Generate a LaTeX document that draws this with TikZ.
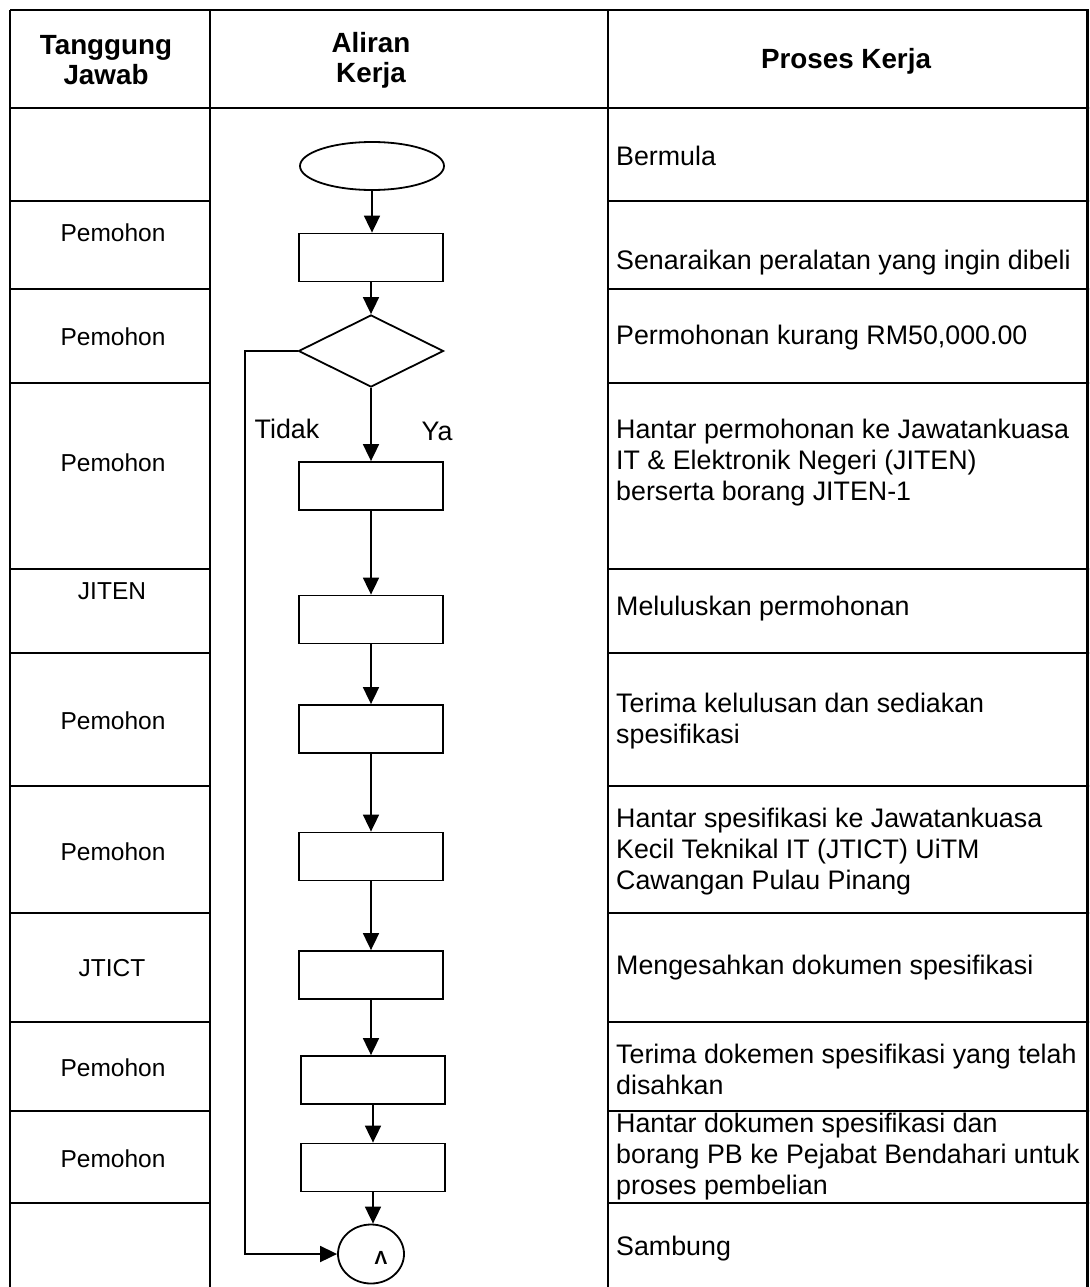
\documentclass[tikz,border=0pt]{standalone}
\usepackage{fontspec}
\setmainfont{Liberation Sans}
\usetikzlibrary{shapes.geometric,arrows.meta}
\begin{document}
\begin{tikzpicture}[x=1pt,y=-1pt,
  grid/.style={line width=2.6pt},
  shp/.style={draw,line width=1.8pt,inner sep=0pt,fill=white},
  box/.style={shp,rectangle,minimum width=144pt,minimum height=48pt},
  flow/.style={line width=1.8pt,-{Triangle[length=17pt,width=16pt]}},
  txt/.style={font=\fontsize{26.8}{31}\selectfont,inner sep=0pt},
  ltxt/.style={font=\fontsize{24.5}{30}\selectfont,inner sep=0pt},
  ptxt/.style={txt,anchor=west,align=left},
  hd/.style={font=\fontsize{27.8}{30}\selectfont\bfseries,inner sep=0pt,align=center}
]
\useasboundingbox (0,0) rectangle (1089,1287);
\clip (0,0) rectangle (1089,1287);
% table
\draw[grid] (10,10) -- (1087.7,10) -- (1087.7,1300);
\draw[grid] (10,10) -- (10,1300);
\draw[grid] (210,10) -- (210,1300);
\draw[grid] (608,10) -- (608,1300);
\draw[grid] (10,108) -- (1090,108);
\foreach \yy in {201,289,383,569,653,786,913,1022,1111,1203}{
  \draw[grid] (10,\yy) -- (210,\yy);
  \draw[grid] (608,\yy) -- (1090,\yy);
}
% headers
\node[hd] (h1) at (106,60) {Tanggung\\Jawab};
\node[hd] (h2) at (371,60) {Aliran\\Kerja};
\node[hd] (h3) at (846,61) {Proses Kerja};
% left column
\node[ltxt] (t1) at (113,233) {Pemohon};
\node[ltxt] (t2) at (113,337) {Pemohon};
\node[ltxt] (t3) at (113,463) {Pemohon};
\node[ltxt] (t4) at (112,591) {JITEN};
\node[ltxt] (t5) at (113,721) {Pemohon};
\node[ltxt] (t6) at (113,852) {Pemohon};
\node[ltxt] (t7) at (112,968) {JTICT};
\node[ltxt] (t8) at (113,1068) {Pemohon};
\node[ltxt] (t9) at (113,1159) {Pemohon};
% right column
\node[ptxt] (p0) at (616,156) {Bermula};
\node[ptxt] (p1) at (616,263) {Senaraikan peralatan yang ingin dibeli};
\node[ptxt] (p2) at (616,338) {Permohonan kurang RM50,000.00};
\node[ptxt] (p3) at (616,463) {Hantar permohonan ke Jawatankuasa\\IT \& Elektronik Negeri (JITEN)\\berserta borang JITEN-1};
\node[ptxt] (p4) at (616,609) {Meluluskan permohonan};
\node[ptxt] (p5) at (616,721) {Terima kelulusan dan sediakan\\spesifikasi};
\node[ptxt] (p6) at (616,852) {Hantar spesifikasi ke Jawatankuasa\\Kecil Teknikal IT (JTICT) UiTM\\Cawangan Pulau Pinang};
\node[ptxt] (p7) at (616,968) {Mengesahkan dokumen spesifikasi};
\node[ptxt] (p8) at (616,1069) {Terima dokemen spesifikasi yang telah\\disahkan};
\node[ptxt] (p9) at (616,1157) {Hantar dokumen spesifikasi dan\\borang PB ke Pejabat Bendahari untuk\\proses pembelian};
\node[ptxt] (p10) at (616,1249) {Sambung};
% flow shapes
\node[shp,ellipse,minimum width=144pt,minimum height=48pt] (s) at (372,166) {};
\node[box] (b1) at (371,257.5) {};
\node[shp,diamond,minimum width=145pt,minimum height=72pt] (d) at (371,351) {};
\node[box] (b2) at (371,486) {};
\node[box] (b3) at (371,619.5) {};
\node[box] (b4) at (371,729) {};
\node[box] (b5) at (371,856.5) {};
\node[box] (b6) at (371,975) {};
\node[box] (b7) at (373,1080) {};
\node[box] (b8) at (373,1167.5) {};
\node[shp,ellipse,minimum width=66pt,minimum height=59pt] (c) at (371,1254) {};
\node[font=\fontsize{19}{19}\selectfont\bfseries,inner sep=0pt] (cl) at (381,1258) {Λ};
% connectors
\draw[flow] (s.south) -- (s.south |- b1.north);
\draw[flow] (b1.south) -- (d.north);
\draw[flow] (d.south) -- (b2.north);
\draw[flow] (b2.south) -- (b3.north);
\draw[flow] (b3.south) -- (b4.north);
\draw[flow] (b4.south) -- (b5.north);
\draw[flow] (b5.south) -- (b6.north -| b5.south);
\draw[flow] (b6.south) -- (b7.north -| b6.south);
\draw[flow] (b7.south) -- (b8.north);
\draw[flow] (b8.south) -- (c.north -| b8.south);
\coordinate (lp) at (245,351);
\draw[flow] (d.west) -- (lp) |- (c.west);
\node[txt] (tidak) at (287,429) {Tidak};
\node[txt] (ya) at (437,431) {Ya};
\end{tikzpicture}
\end{document}
